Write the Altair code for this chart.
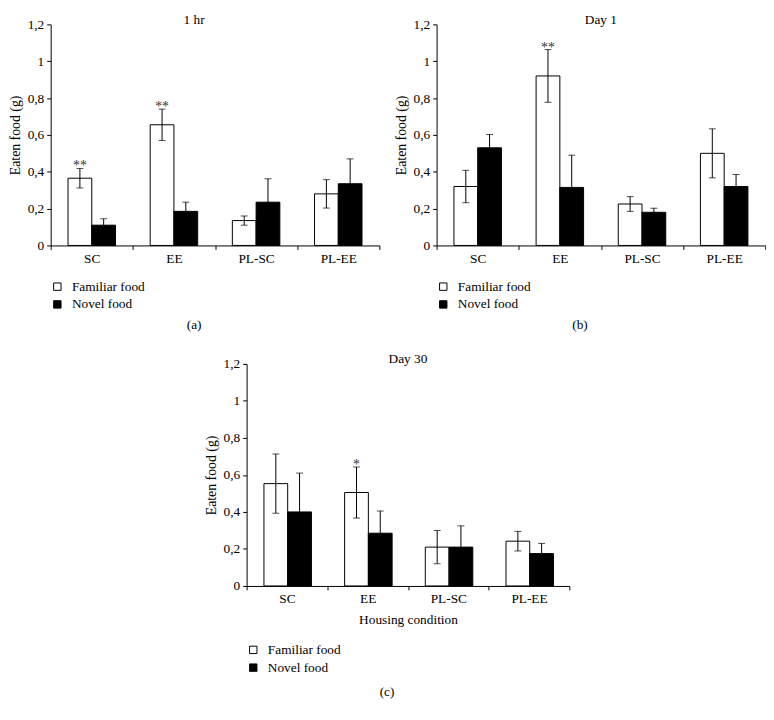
import altair as alt
import pandas as pd

FONT = "Liberation Serif"

categories = ["SC", "EE", "PL-SC", "PL-EE"]
foods = ["Familiar food", "Novel food"]

# Panel (a) 1 hr
a_fam = [0.365, 0.655, 0.135, 0.28]
a_fam_err = [0.053, 0.085, 0.025, 0.077]
a_nov = [0.11, 0.185, 0.235, 0.335]
a_nov_err = [0.035, 0.05, 0.127, 0.135]
a_stars = ["**", "**", "", ""]

# Panel (b) Day 1
b_fam = [0.32, 0.92, 0.225, 0.50]
b_fam_err = [0.088, 0.143, 0.04, 0.133]
b_nov = [0.53, 0.315, 0.18, 0.32]
b_nov_err = [0.072, 0.175, 0.022, 0.065]
b_stars = ["", "**", "", ""]

# Panel (c) Day 30
c_fam = [0.553, 0.505, 0.21, 0.242]
c_fam_err = [0.16, 0.138, 0.09, 0.053]
c_nov = [0.40, 0.285, 0.21, 0.175]
c_nov_err = [0.21, 0.12, 0.115, 0.055]
c_stars = ["", "*", "", ""]

y_ticks = [0, 0.2, 0.4, 0.6, 0.8, 1, 1.2]


def make_df(fam, fam_err, nov, nov_err, stars):
    rows = []
    for i, c in enumerate(categories):
        rows.append(dict(cat=c, food=foods[0], val=fam[i], lo=fam[i] - fam_err[i],
                         hi=fam[i] + fam_err[i], star=stars[i]))
        rows.append(dict(cat=c, food=foods[1], val=nov[i], lo=nov[i] - nov_err[i],
                         hi=nov[i] + nov_err[i], star=""))
    return pd.DataFrame(rows)


def panel(df, title, legend_y, xtitle, w, h, frame):
    base = alt.Chart(df)
    x_axis = alt.Axis(labelAngle=0, tickBand="extent", tickSize=4, labelPadding=2,
                      labelFont=FONT, labelFontSize=13.5, labelColor="black",
                      titleFont=FONT, titleFontSize=13.5, titleFontWeight="normal",
                      titleColor="black", titlePadding=8, domainColor="black",
                      tickColor="black", title=xtitle)
    x = alt.X("cat:N", sort=categories,
              scale=alt.Scale(paddingInner=0, paddingOuter=0), axis=x_axis)
    xo = alt.XOffset("food:N", sort=foods,
                     scale=alt.Scale(paddingInner=0, paddingOuter=0.73))
    y_axis = alt.Axis(values=y_ticks, tickSize=4, labelPadding=3, labelOverlap=False,
                      labelExpr="replace(format(datum.value, '~g'), '.', ',')",
                      labelFont=FONT, labelFontSize=13.5, labelColor="black",
                      title="Eaten food (g)", titleFont=FONT, titleFontSize=14,
                      titleFontWeight="normal", titleColor="black", titlePadding=5,
                      domainColor="black", tickColor="black", grid=False)
    y_scale = alt.Scale(domain=[0, 1.2], nice=False)

    def Y(f):
        return alt.Y(f, type="quantitative", scale=y_scale, axis=y_axis)

    bars = base.mark_bar(stroke="black", strokeWidth=1).encode(
        x=x, xOffset=xo, y=Y("val"),
        fill=alt.Fill("food:N", scale=alt.Scale(domain=foods, range=["white", "black"]),
                      legend=alt.Legend(orient="none", legendX=0, legendY=legend_y,
                                        title=None, direction="vertical",
                                        symbolType="square", symbolSize=56,
                                        symbolStrokeColor="black", symbolStrokeWidth=1,
                                        labelFont=FONT, labelFontSize=13.5,
                                        labelColor="black", rowPadding=3,
                                        labelOffset=8, padding=0)))
    rules = base.mark_rule(color="black", strokeWidth=1).encode(
        x=x, xOffset=xo, y=Y("lo"), y2="hi:Q")
    cap_hi = base.mark_tick(color="black", size=7, thickness=1).encode(
        x=x, xOffset=xo, y=Y("hi"))
    cap_lo = base.mark_tick(color="black", size=7, thickness=1).encode(
        x=x, xOffset=xo, y=Y("lo"))
    stars = base.mark_text(font=FONT, fontSize=14, color="#333333",
                           baseline="middle", dy=-2).encode(
        x=x, xOffset=xo, y=Y("hi"), text="star:N")
    return alt.layer(bars, rules, cap_hi, cap_lo, stars).properties(
        width=w, height=h,
        title=alt.TitleParams(title, font=FONT, fontSize=13.5, fontWeight="normal",
                              color="black", offset=-9, anchor="middle", frame=frame))


def wrap(ch, label, off):
    return alt.vconcat(ch, title=alt.TitleParams(label, orient="bottom", font=FONT,
                                                  fontSize=13.5, fontWeight="normal",
                                                  color="black", offset=off,
                                                  anchor="middle", frame="bounds")
                       ).resolve_scale(fill="independent")


pa = panel(make_df(a_fam, a_fam_err, a_nov, a_nov_err, a_stars), "1 hr", 259, None,
           333, 224, "bounds")
pb = panel(make_df(b_fam, b_fam_err, b_nov, b_nov_err, b_stars), "Day 1", 259, None,
           333, 224, "group")
pc = panel(make_df(c_fam, c_fam_err, c_nov, c_nov_err, c_stars), "Day 30", 283,
           "Housing condition", 327, 225, "group")

row = alt.hconcat(wrap(pa, "(a)", 7), wrap(pb, "(b)", 7), spacing=14
                  ).resolve_scale(fill="independent")
chart = alt.vconcat(row, wrap(pc, "(c)", 10), spacing=20, center=True
                    ).resolve_scale(fill="independent").properties(padding=0
                    ).configure_view(stroke=None).configure_axisY(labelOverlap=False)

chart.save("out.html", embed_options={"renderer": "svg", "actions": False})
